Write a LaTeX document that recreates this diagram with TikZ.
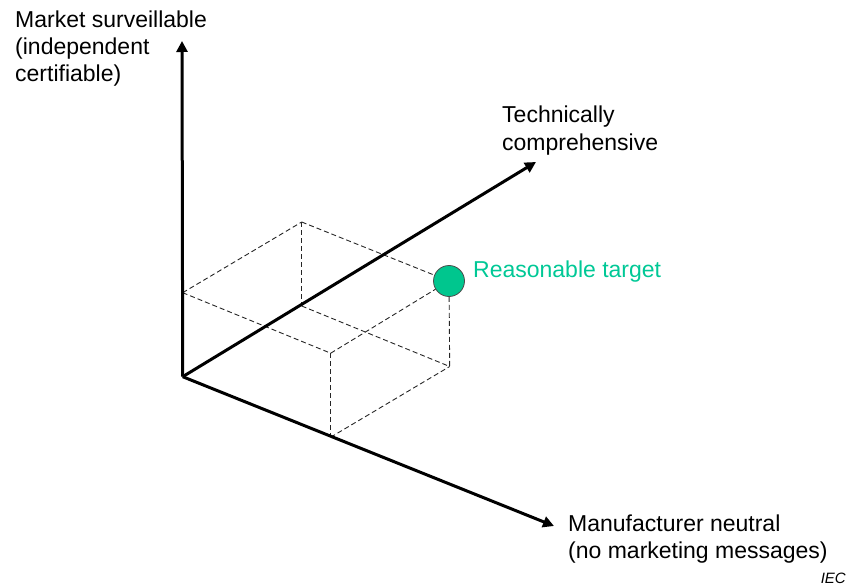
\documentclass[tikz,border=0pt]{standalone}
\usepackage{fontspec}
\setmainfont{Liberation Sans}
\usetikzlibrary{arrows.meta}
\definecolor{tgreen}{RGB}{0,200,150}
\definecolor{tfill}{RGB}{0,198,142}
\tikzset{
  axis/.style={line width=3pt,-{Triangle[length=11pt,width=11pt]}},
  guide/.style={line width=0.9pt,dash pattern=on 5pt off 3pt,black!85},
  lbl/.style={anchor=base west,inner sep=0pt,font=\fontsize{23}{27}\selectfont},
}
\begin{document}
\begin{tikzpicture}[x=1pt,y=-1pt]
\useasboundingbox (0,0) rectangle (847,586);
\coordinate (O) at (182.7,376.7);
\coordinate (Ztip) at (182,41);
\coordinate (Ttip) at (536,162);
\coordinate (Mtip) at (554,526);
\coordinate (Hp) at (182.7,292.7);
\coordinate (A) at (301.7,222);
\coordinate (Tp) at (301.7,306);
\coordinate (Mp) at (330.7,437.2);
\coordinate (HM) at (330.7,353.2);
\coordinate (MT) at (449.7,366.5);
\node[circle,draw=black!70,line width=0.8pt,fill=tfill,minimum size=31pt,inner sep=0pt] (C) at (449,281) {};
% dashed box
\draw[guide] (Hp) -- (A);
\draw[guide] (Hp) -- (HM);
\draw[guide] (A) -- (C);
\draw[guide] (HM) -- (C);
\draw[guide] (HM) -- (Mp);
\draw[guide] (A) -- (Tp);
\draw[guide] (C) -- (MT);
\draw[guide] (Tp) -- (MT);
\draw[guide] (Mp) -- (MT);
% axes
\draw[axis] (O) -- (Ztip);
\draw[axis] (O) -- (Ttip);
\draw[axis] (O) -- (Mtip);
% labels
\node[lbl] (z1) at (15,28) {Market surveillable};
\node[lbl] (z2) at (15,55) {(independent};
\node[lbl] (z3) at (15,82) {certifiable)};
\node[lbl] (t1) at (502,123) {Technically};
\node[lbl] (t2) at (502,150) {comprehensive};
\node[lbl] (m1) at (568,531) {Manufacturer neutral};
\node[lbl] (m2) at (568,558) {(no marketing messages)};
\node[lbl,text=tgreen] (rt) at (473,277) {Reasonable target};
\node[anchor=base east,inner sep=0pt,font=\fontsize{15}{18}\selectfont\itshape] (iec) at (846,583) {IEC};
\end{tikzpicture}
\end{document}
